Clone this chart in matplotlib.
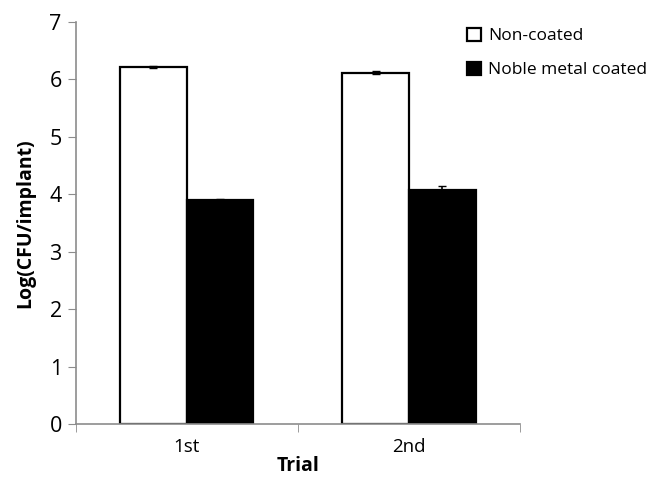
import numpy as np
import matplotlib.pyplot as plt

plt.rcParams['font.family'] = ['Open Sans', 'DejaVu Sans']

trials = ['1st', '2nd']
non_coated = [6.22, 6.12]
non_coated_err = [0.02, 0.02]
noble_coated = [3.90, 4.08]
noble_coated_err = [0.02, 0.06]

fig = plt.figure(figsize=(6.47, 4.79), dpi=100)
ax = fig.add_axes([0.117, 0.115, 0.687, 0.839])

x = np.arange(len(trials))
w = 0.3
ax.bar(x - w / 2, non_coated, w, yerr=non_coated_err, color='white', edgecolor='black',
       linewidth=1.6, label='Non-coated', error_kw=dict(ecolor='black', capsize=3, elinewidth=1.2))
ax.bar(x + w / 2, noble_coated, w, yerr=noble_coated_err, color='black', edgecolor='black',
       linewidth=1.6, label='Noble metal coated', error_kw=dict(ecolor='black', capsize=3, elinewidth=1.2))

ax.set_xlim(-0.5, 1.5)
ax.set_ylim(0, 7)
ax.set_yticks(range(8))
ax.set_xticks(x)
ax.set_xticklabels(trials)
ax.set_xticks([-0.5, 0.5, 1.5], minor=True)
ax.tick_params(axis='x', which='major', length=0, labelsize=13.5, pad=10)
ax.tick_params(axis='x', which='minor', length=6, color='#8c8c8c', direction='out')
ax.tick_params(axis='y', length=6, color='#8c8c8c', labelsize=15.5, pad=4)

for s in ['top', 'right']:
    ax.spines[s].set_visible(False)
for s in ['left', 'bottom']:
    ax.spines[s].set_color('#8c8c8c')
    ax.spines[s].set_linewidth(1.2)

ax.set_xlabel('Trial', fontsize=14, fontweight='bold', labelpad=0)
ax.set_ylabel('Log(CFU/implant)', fontsize=14, fontweight='bold', labelpad=10)

ax.legend(loc='upper left', bbox_to_anchor=(0.845, 1.025), frameon=False, fontsize=12.5,
          handlelength=0.8, handleheight=0.8, handletextpad=0.4, labelspacing=1.0)

fig.savefig('out.png', dpi=100)
